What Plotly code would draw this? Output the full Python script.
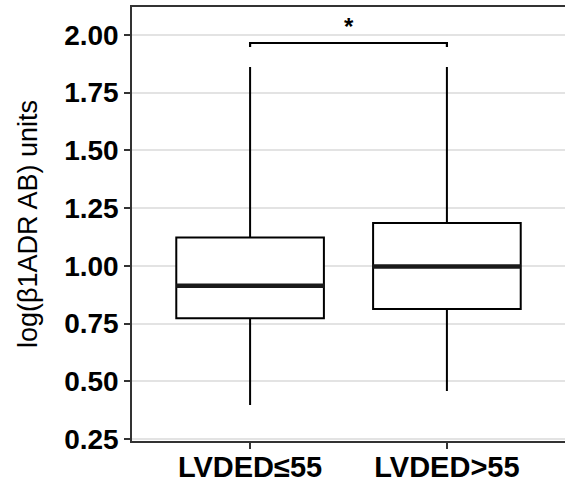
import plotly.graph_objects as go

categories = ["LVDED≤55", "LVDED>55"]
q1 = [0.773, 0.813]
median = [0.913, 0.997]
q3 = [1.122, 1.185]
lower_whisker = [0.397, 0.458]
upper_whisker = [1.861, 1.861]
y_ticks = [0.25, 0.50, 0.75, 1.00, 1.25, 1.50, 1.75, 2.00]
bracket_y = 1.965
bracket_drop = 1.948
star_y = 2.035
star_text = "*"
y_title = "log(β1ADR AB) units"

pos = list(range(len(categories)))
box_w = 0.75

fig = go.Figure()
fig.add_trace(go.Box(
    x=pos, q1=q1, median=median, q3=q3,
    lowerfence=lower_whisker, upperfence=upper_whisker,
    width=box_w, whiskerwidth=0, boxpoints=False,
    fillcolor="white", line=dict(color="black", width=2),
    showlegend=False, hoverinfo="skip",
))
for i, m in zip(pos, median):
    fig.add_trace(go.Scatter(
        x=[i - box_w / 2, i + box_w / 2], y=[m, m], mode="lines",
        line=dict(color="#1a1a1a", width=4.5), showlegend=False, hoverinfo="skip",
    ))
# significance bracket
fig.add_trace(go.Scatter(
    x=[pos[0], pos[0], pos[1], pos[1]],
    y=[bracket_drop, bracket_y, bracket_y, bracket_drop],
    mode="lines", line=dict(color="black", width=2.2),
    showlegend=False, hoverinfo="skip",
))
fig.add_annotation(
    x=(pos[0] + pos[1]) / 2, y=star_y, text=star_text, showarrow=False,
    font=dict(size=24, color="black", family="Liberation Sans, Arial", weight="bold"),
)

fig.update_layout(
    width=565, height=482,
    margin=dict(l=132, r=0, t=7, b=41),
    paper_bgcolor="white", plot_bgcolor="white",
    font=dict(family="Liberation Sans, Arial", color="black"),
)
fig.update_xaxes(
    range=[-0.6, 1.6], tickvals=pos, ticktext=categories, automargin=False,
    showgrid=False, zeroline=False,
    showline=True, linecolor="#333333", linewidth=1.5, mirror=True,
    ticks="outside", ticklen=6, tickwidth=1.5, tickcolor="#333333",
    ticklabelstandoff=-7,
    tickfont=dict(size=29, color="black", family="Liberation Sans, Arial", weight="bold"),
)
fig.update_yaxes(
    range=[0.241, 2.121], tickvals=y_ticks, tickformat=".2f", automargin=False,
    showgrid=True, gridcolor="#e3e3e3", gridwidth=1.5, zeroline=False,
    showline=True, linecolor="#333333", linewidth=1.5,
    ticks="outside", ticklen=6, tickwidth=1.5, tickcolor="#333333",
    tickfont=dict(size=28, color="black", family="Liberation Sans, Arial", weight="bold"),
    title=dict(text=y_title, font=dict(size=27, color="black", family="Liberation Sans, Arial"), standoff=19),
)

fig.write_html("out.html")
